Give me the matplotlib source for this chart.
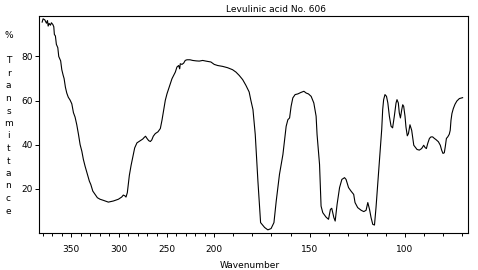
import numpy as np
import matplotlib
matplotlib.use('Agg')
import matplotlib.pyplot as plt
from matplotlib.ticker import FixedLocator

# wavenumber (x10 cm-1) and % transmittance
wavenumber = [
    380.4, 379.4, 377.6, 375.9, 374.8, 374.1, 373.1, 371.7, 370.7, 369.2,
    368.2, 367.6, 366.5, 365.5, 364.0, 363.0, 361.0, 359.8, 358.4, 357.4,
    356.0, 354.6, 353.0, 351.1, 349.3, 347.6, 345.9, 344.1, 342.3, 340.6,
    338.8, 337.2, 335.4, 333.0, 330.9, 329.4, 327.3, 324.9, 322.5, 319.7,
    316.2, 311.0, 305.8, 300.5, 297.0, 295.3, 293.5, 292.5, 291.1, 290.4,
    289.0, 287.2, 285.9, 284.8, 283.4, 281.0, 278.5, 275.0, 273.3, 272.0,
    270.5, 268.7, 267.0, 265.5, 263.9, 261.8, 259.0, 256.5, 254.8, 253.0,
    251.3, 249.5, 247.7, 244.3, 242.5, 240.8, 239.1, 237.3, 236.2, 235.6,
    233.8, 232.0, 230.4, 228.6, 225.4, 222.6, 219.0, 215.7, 212.1, 208.7,
    203.5, 200.0, 198.2, 195.6, 193.0, 190.4, 188.6, 186.9, 185.1, 183.4,
    181.7, 180.8, 179.7, 178.5, 177.1, 175.7, 173.6, 171.9, 170.2, 168.7,
    167.5, 165.8, 164.0, 162.8, 162.3, 161.4, 160.5, 159.7, 158.8, 157.6,
    156.2, 154.5, 153.0, 151.8, 150.6, 149.2, 147.8, 146.6, 146.1, 144.8,
    144.0, 143.1, 141.4, 140.1, 139.1, 138.4, 137.3, 136.6, 135.6, 134.3,
    133.1, 131.7, 130.9, 129.6, 128.3, 126.9, 126.2, 124.8, 123.0, 121.6,
    120.4, 119.5, 118.6, 117.8, 116.9, 116.0, 115.2, 114.3, 113.4, 112.6,
    112.2, 111.7, 111.2, 110.5, 109.7, 109.0, 108.2, 107.3, 106.5, 105.6,
    104.7, 104.2, 103.5, 103.0, 102.4, 101.7, 101.2, 100.7, 100.0, 99.5,
    98.8, 98.2, 97.4, 96.5, 96.0, 95.4, 94.8, 93.7, 92.5, 91.3,
    90.2, 89.5, 88.8, 88.1, 87.2, 86.4, 85.5, 84.6, 83.8, 82.5,
    81.5, 80.8, 80.1, 79.4, 78.9, 78.3, 77.6, 76.8, 76.3, 75.9,
    75.4, 74.7, 73.8, 72.8, 71.5, 69.8,
]
transmittance = [
    95.6, 97.1, 96.6, 95.1, 96.3, 93.8, 95.0, 94.2, 95.3, 94.5,
    93.5, 90.0, 89.3, 85.5, 84.0, 80.0, 78.0, 74.0, 71.5, 70.0,
    66.0, 63.4, 61.5, 60.2, 58.5, 54.5, 52.5, 49.0, 44.6, 40.0,
    37.0, 33.3, 30.2, 26.5, 23.4, 21.9, 18.9, 17.4, 15.9, 15.2,
    14.7, 13.9, 14.4, 15.2, 16.2, 17.1, 16.7, 16.2, 18.2, 20.9,
    26.0, 30.5, 33.3, 35.5, 38.5, 40.8, 41.5, 42.5, 43.3, 43.8,
    42.8, 41.8, 41.4, 42.1, 43.8, 45.0, 45.8, 47.3, 51.0, 55.6,
    60.1, 63.1, 65.4, 69.9, 71.4, 72.9, 75.2, 75.9, 74.4, 76.7,
    76.4, 77.0, 78.2, 78.5, 78.5, 78.2, 78.0, 77.9, 78.2, 77.9,
    77.5, 76.4, 75.9, 75.5, 74.9, 74.0, 72.9, 71.4, 69.5, 66.9,
    63.9, 60.1, 55.9, 44.6, 23.4, 4.6, 2.4, 1.3, 1.9, 4.6,
    14.4, 26.5, 35.5, 44.6, 48.3, 51.3, 52.1, 57.4, 61.2, 62.7,
    63.0, 63.7, 64.2, 63.4, 63.0, 61.9, 58.9, 52.9, 44.6, 31.0,
    12.1, 9.1, 7.1, 6.1, 10.6, 11.1, 6.9, 5.3, 12.9, 20.5,
    24.2, 25.0, 24.2, 20.5, 18.9, 17.4, 13.7, 11.4, 10.2, 9.6,
    10.2, 13.7, 10.6, 6.9, 3.8, 3.5, 11.4, 22.0, 32.5, 41.5,
    47.0, 55.9, 60.4, 62.7, 61.9, 58.9, 52.9, 48.3, 47.6, 52.9,
    58.9, 60.4, 58.9, 54.4, 52.1, 55.9, 58.1, 57.4, 52.9, 48.0,
    44.0, 45.0, 49.0, 46.5, 43.5, 39.7, 39.0, 37.8, 37.5, 38.2,
    39.7, 38.7, 38.2, 40.5, 42.8, 43.5, 43.5, 42.8, 42.3, 41.3,
    39.7, 37.5, 36.0, 36.3, 39.0, 42.8, 43.5, 44.7, 46.5, 51.0,
    54.1, 56.3, 58.3, 59.8, 60.9, 61.3,
]

major_ticks = [350, 300, 250, 200, 150, 100]
y_ticks = [20, 40, 60, 80]
title = 'Levulinic acid No. 606'
ylabel = 'Transmittance'


# scale is compressed by half above 200 (i.e. 2000 cm-1)
def forward(w):
    w = np.asarray(w, dtype=float)
    return np.where(w > 200, 200 + (w - 200) / 2, w)


def inverse(u):
    u = np.asarray(u, dtype=float)
    return np.where(u > 200, 200 + (u - 200) * 2, u)


plt.rcParams['font.family'] = 'DejaVu Sans'
fig = plt.figure(figsize=(4.78, 2.70), dpi=100)
ax = fig.add_axes([0.081, 0.138, 0.898, 0.803])

ax.plot(wavenumber, transmittance, color='black', lw=0.8)

ax.set_xscale('function', functions=(forward, inverse))
ax.set_xlim(384, 67)
ax.set_ylim(0, 98.4)

ax.xaxis.set_major_locator(FixedLocator(major_ticks))
minor = [v for v in range(70, 390, 10) if v not in major_ticks]
ax.xaxis.set_minor_locator(FixedLocator(minor))
ax.set_yticks(y_ticks)
ax.tick_params(axis='x', which='major', direction='out', length=3, width=0.7,
               labelsize=6.5, pad=6)
ax.tick_params(axis='x', which='minor', direction='out', length=2, width=0.7)
ax.tick_params(axis='y', which='major', direction='out', length=3, width=0.7,
               labelsize=6.5, pad=1)
for s in ax.spines.values():
    s.set_linewidth(0.8)

fig.text(0.577, 0.963, title, ha='center', va='center', fontsize=6.5)
fig.text(0.523, 0.018, 'Wavenumber', ha='center', va='center', fontsize=6.5)

fig.text(8.5 / 478, 1 - 36 / 270, '%', ha='center', va='center', fontsize=6.5)
for i, ch in enumerate(ylabel):
    y = 61 + i * 12.5
    fig.text(8.5 / 478, 1 - y / 270, ch, ha='center', va='center', fontsize=6.5)

fig.savefig('out.png', dpi=100)
